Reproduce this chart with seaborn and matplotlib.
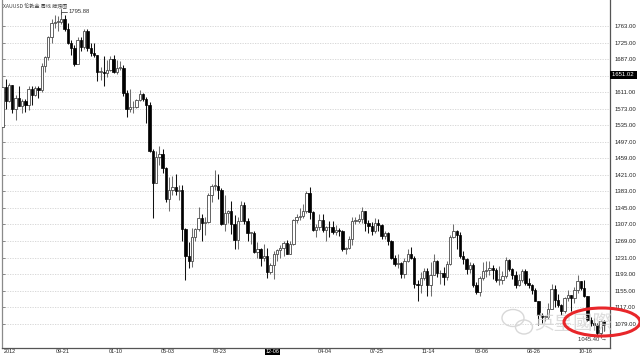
import numpy as np
import pandas as pd
import matplotlib
matplotlib.use("Agg")
import matplotlib.pyplot as plt
import matplotlib.transforms as mtransforms
from matplotlib.patches import Ellipse
import seaborn as sns

title = "XAUUSD 伦敦金 周线 蜡烛图"

opens = [1532,1622,1590,1627,1572,1598,1579,1590,1581,1619,1605,1620,1615,1670,1691,1738,1771,1772,1772,1780,
         1757,1724,1712,1676,1730,1714,1752,1712,1702,1696,1657,1657,1656,1662,1687,1658,1667,1667,1609,1572,
         1576,1577,1592,1606,1596,1581,1476,1403,1462,1470,1436,1366,1386,1392,1383,1387,1296,1234,1223,1277,
         1296,1322,1310,1313,1375,1395,1395,1386,1308,1333,1338,1309,1272,1315,1352,1314,1287,1288,1244,1250,
         1231,1235,1197,1213,1238,1248,1254,1265,1240,1262,1318,1323,1326,1339,1379,1335,1294,1302,1318,1294,
         1302,1300,1290,1294,1292,1250,1253,1274,1316,1316,1320,1337,1310,1304,1293,1310,1305,1280,1287,1268,
         1231,1216,1218,1192,1222,1238,1231,1171,1169,1185,1201,1167,1191,1222,1195,1195,1186,1216,1277,1293,
         1283,1234,1228,1204,1213,1167,1152,1183,1199,1202,1207,1203,1179,1179,1189,1225,1205,1190,1168,1180,
         1201,1173,1168,1157,1131,1098,1094,1094,1113,1159,1134,1121,1108,1137,1145,1137,1156,1177,1162,1142,
         1088,1081,1076,1057,1086]
highs = [1627,1641,1632,1628,1605,1625,1595,1595,1625,1624,1625,1626,1678,1693,1741,1778,1788,1785,1795.88,1789,
         1770,1730,1720,1737,1737,1755,1755,1723,1725,1697,1668,1694,1685,1694,1697,1684,1683,1673,1616,1619,
         1590,1596,1616,1610,1600,1588,1480,1476,1488,1481,1440,1417,1418,1424,1398,1397,1298,1267,1298,1298,
         1348,1331,1324,1380,1400,1433,1424,1390,1374,1341,1361,1328,1324,1361,1358,1322,1290,1293,1267,1254,
         1261,1254,1219,1246,1251,1259,1270,1271,1270,1320,1332,1345,1355,1383,1392,1339,1307,1331,1331,1304,
         1315,1316,1306,1298,1295,1255,1280,1325,1325,1332,1346,1339,1318,1312,1322,1320,1308,1293,1290,1271,
         1237,1239,1220,1231,1250,1255,1234,1179,1197,1207,1207,1221,1238,1225,1202,1210,1223,1282,1307,1295,
         1290,1246,1231,1220,1218,1175,1188,1220,1224,1224,1214,1206,1212,1199,1232,1227,1206,1199,1194,1205,
         1204,1183,1171,1161,1132,1104,1097,1126,1170,1169,1147,1124,1141,1157,1146,1163,1191,1178,1180,1142,
         1095,1091,1080,1088,1088]
lows = [1532,1572,1588,1562,1548,1578,1564,1566,1570,1582,1601,1598,1612,1657,1685,1723,1758,1752,1767,1752,
        1722,1697,1672,1676,1706,1710,1705,1693,1692,1636,1640,1626,1646,1660,1655,1653,1661,1603,1555,1565,
        1562,1574,1591,1590,1539,1473,1321,1402,1444,1426,1359,1338,1375,1375,1364,1269,1180,1207,1209,1269,
        1292,1270,1283,1311,1359,1385,1365,1306,1292,1311,1286,1251,1251,1314,1309,1268,1262,1241,1231,1211,
        1223,1185,1193,1182,1223,1229,1234,1238,1238,1260,1311,1317,1321,1333,1320,1291,1277,1295,1290,1268,
        1277,1284,1282,1281,1245,1240,1250,1259,1309,1311,1310,1293,1287,1282,1287,1291,1273,1274,1260,1228,
        1212,1206,1183,1183,1220,1227,1161,1131,1150,1180,1143,1142,1190,1186,1170,1167,1180,1214,1276,1250,
        1230,1217,1192,1195,1163,1147,1142,1180,1186,1190,1182,1175,1169,1170,1183,1200,1181,1162,1165,1175,
        1168,1162,1147,1130,1077,1080,1084,1090,1112,1118,1118,1098,1103,1131,1108,1127,1150,1156,1141,1085,
        1074,1064,1052,1045.40,1062]
closes = opens[1:] + [1075]

xtick_pos = [0, 16, 32, 48, 64, 80, 96, 112, 128, 144, 160, 176]
xtick_labels = ["2012", "09-21", "01-10", "05-03", "08-23", "12-06", "04-04",
                "07-25", "11-14", "03-06", "06-26", "10-16"]
ytick_vals = [1079, 1117, 1155, 1193, 1231, 1269, 1307, 1345, 1383, 1421,
              1459, 1497, 1535, 1573, 1611, 1649, 1687, 1725, 1763]
ytick_labels = ["1079.00", "1117.00", "1155.00", "1193.00", "1231.00", "1269.00",
                "1307.00", "1345.00", "1383.00", "1421.00", "1459.00", "1497.00",
                "1535.00", "1573.00", "1611.00", "", "1687.00", "1725.00", "1763.00"]
crosshair_price = 1651.02
crosshair_date = "12-06"
high_label = 1795.88
low_label = 1045.40

sns.set_theme(style="white")
plt.rcParams["font.family"] = ["Liberation Sans", "Noto Sans CJK SC", "DejaVu Sans"]

W, H = 640, 355
fig = plt.figure(figsize=(6.4, 3.55), dpi=100)
fig.patch.set_facecolor("white")
ax = fig.add_axes([2 / W, 7 / H, 608 / W, 348 / H])
ax.set_facecolor("white")

df = pd.DataFrame({"o": opens, "h": highs, "l": lows, "c": closes[:len(opens)]})
df["i"] = np.arange(len(df))
up = df["c"] >= df["o"]
dn = ~up
bot = np.minimum(df["o"], df["c"])
hgt = np.maximum((df["c"] - df["o"]).abs(), 1.5)

ax.vlines(df["i"][up], df["l"][up], df["h"][up], color="#6e6e6e", lw=0.75, zorder=2)
ax.vlines(df["i"][dn], df["l"][dn], df["h"][dn], color="#111111", lw=0.75, zorder=2)
ax.bar(df["i"][up], hgt[up], bottom=bot[up], width=0.72, color="white",
       edgecolor="#4a4a4a", linewidth=0.6, zorder=3)
ax.bar(df["i"][dn], hgt[dn], bottom=bot[dn], width=0.72, color="black",
       edgecolor="black", linewidth=0.5, zorder=3)

ax.set_xlim(-0.15, 185.9)
ax.set_ylim(1023.1, 1822.7)

# y axis
ax.set_yticks(ytick_vals)
ax.set_yticklabels(ytick_labels)
ax.yaxis.grid(True, linestyle=(0, (1.5, 1.5)), color="#d2d2d2", lw=0.6)
ax.xaxis.grid(False)
ax.tick_params(axis="y", which="major", left=True, right=False, labelleft=False,
               labelright=True, direction="in", length=2.5, width=0.6, color="#777777",
               labelsize=4.3, labelcolor="#222222", pad=3)

# x axis: ticks drawn by the axis, labels placed right of each tick
ax.set_xticks(xtick_pos)
ax.set_xticks(np.arange(0, 186, 4), minor=True)
ax.tick_params(axis="x", which="major", direction="out", length=4, width=0.6,
               color="#555555", labelbottom=False)
ax.tick_params(axis="x", which="minor", direction="out", length=2, width=0.5,
               color="#777777")
xtrans = mtransforms.blended_transform_factory(ax.transData, ax.transAxes)
shift = mtransforms.ScaledTranslation(1.2 / 100, -1.2 / 100, fig.dpi_scale_trans)
for pos, lab in zip(xtick_pos, xtick_labels):
    if lab == crosshair_date:
        ax.text(pos, 0, lab, transform=xtrans + shift, ha="left", va="top", fontsize=3.9,
                color="white", clip_on=False,
                bbox=dict(facecolor="black", edgecolor="none", pad=0.4))
    else:
        ax.text(pos, 0, lab, transform=xtrans + shift, ha="left", va="top", fontsize=3.9,
                color="#222222", clip_on=False)

ax.spines["top"].set_visible(False)
ax.spines["left"].set_color("#8a8a8a")
ax.spines["left"].set_linewidth(0.9)
ax.spines["right"].set_color("#555555")
ax.spines["right"].set_linewidth(0.9)
ax.spines["bottom"].set_color("#555555")
ax.spines["bottom"].set_linewidth(0.9)

# crosshair price box on right axis
trans = mtransforms.blended_transform_factory(ax.transAxes, ax.transData)
ax.text(1.003, crosshair_price, "1651.02 ", transform=trans, ha="left", va="center",
        fontsize=4.3, color="white", clip_on=False,
        bbox=dict(facecolor="black", edgecolor="none", pad=1.2))

# high / low annotations
hi_i = int(np.argmax(highs))
lo_i = int(np.argmin(lows))
ax.plot([hi_i, hi_i + 1.6], [high_label, high_label], color="#444444", lw=0.6, zorder=4)
ax.plot([hi_i, hi_i], [high_label - 6, high_label + 6], color="#444444", lw=0.6, zorder=4)
ax.text(hi_i + 2.3, high_label, "1795.88", fontsize=4.2, color="#333333",
        ha="left", va="center")
ax.text(lo_i + 1.8, low_label - 3, "1045.40 \u2192", fontsize=4.2, color="#333333",
        ha="right", va="center")

# title
fig.text(3 / W, 1 - 5.5 / H, title, fontsize=3.7, color="#444444", ha="left", va="center",
         family=["Noto Sans CJK SC", "DejaVu Sans"])

# watermark
fig.text(573 / W, 1 - 323 / H, "英皇國際", fontsize=14, color="#d4d4d4", alpha=0.8,
         ha="center", va="center", family=["Noto Sans CJK TC", "DejaVu Sans"], zorder=5)
for cx, cy, w, h in [(513, 318, 22, 17), (524, 327, 17, 14)]:
    fig.patches.append(Ellipse((cx / W, 1 - cy / H), w / W, h / H, transform=fig.transFigure,
                               fill=False, edgecolor="#d8d8d8", lw=1.0, zorder=5))

# red ellipse
fig.patches.append(Ellipse((602 / W, 1 - 322 / H), 76 / W, 28 / H, transform=fig.transFigure,
                           fill=False, edgecolor="#e8262a", lw=2.2, zorder=6))

fig.savefig("out.png", dpi=100, facecolor="white")
